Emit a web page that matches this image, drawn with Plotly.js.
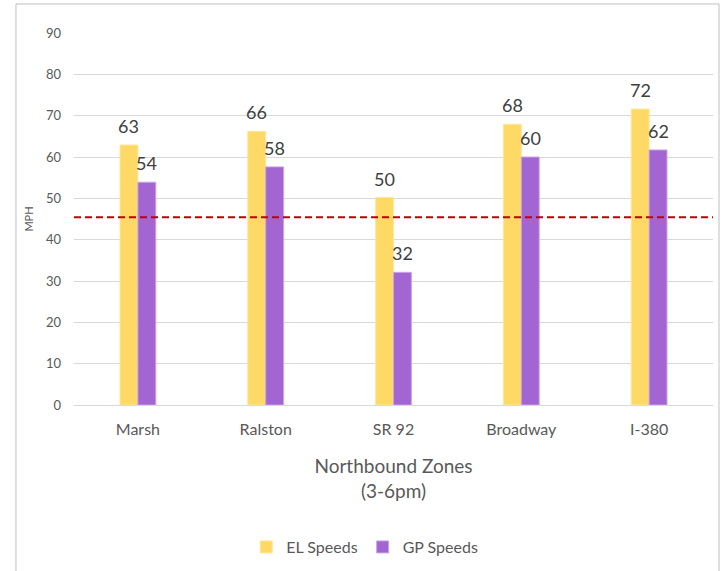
<!DOCTYPE html>
<html>
<head>
<meta charset="utf-8">
<script src="https://cdn.plot.ly/plotly-3.0.1.min.js"></script>
<style>html,body{margin:0;padding:0;background:#fff;}#chart{width:725px;height:571px;}</style>
</head>
<body>
<div id="chart"></div>
<script>
const zones = ["Marsh", "Ralston", "SR 92", "Broadway", "I-380"];
const elSpeeds = [62.9, 66.2, 50.2, 67.9, 71.6];
const gpSpeeds = [53.9, 57.6, 32.1, 60.0, 61.7];
const threshold = 45.4;
const yTicks = [0, 10, 20, 30, 40, 50, 60, 70, 80, 90];

const FONT = "Lato, 'Open Sans', sans-serif";
const LABEL_FONT = {family: FONT, size: 18, color: "#404040"};

const traces = [
  {
    type: "bar", name: "EL Speeds", x: zones, y: elSpeeds,
    marker: {color: "#FFD966", line: {color: "#FFE699", width: 1}},
    hoverinfo: "x+y"
  },
  {
    type: "bar", name: "GP Speeds", x: zones, y: gpSpeeds,
    marker: {color: "#A365D1", line: {color: "#C9A3E6", width: 1}},
    hoverinfo: "x+y"
  }
];

const labelAnn = (vals, shift) => vals.map((v, i) => ({
  x: zones[i], y: v, xref: "x", yref: "y", text: Math.round(v).toString(),
  showarrow: false, xshift: shift, yshift: 6, yanchor: "bottom", xanchor: "center",
  font: LABEL_FONT
}));

const layout = {
  width: 725, height: 571,
  margin: {l: 74, r: 12, t: 33, b: 166},
  paper_bgcolor: "#ffffff", plot_bgcolor: "#ffffff",
  font: {family: FONT, color: "#595959"},
  barmode: "group", bargap: 0.72, bargroupgap: 0,
  showlegend: true,
  legend: {orientation: "h", x: 0.455, xanchor: "center", yref: "container", y: 0.042, yanchor: "middle",
           font: {family: FONT, size: 16, color: "#595959"}, itemwidth: 30},
  xaxis: {
    type: "category", automargin: false,
    tickfont: {family: FONT, size: 16, color: "#595959"},
    showgrid: false, showline: true, linecolor: "#d9d9d9", linewidth: 1,
    ticks: "", ticklen: 0, ticklabelstandoff: 10,
    title: {text: "Northbound Zones<br>(3-6pm)", font: {family: FONT, size: 19, color: "#595959"}, standoff: 22}
  },
  yaxis: {
    range: [0, 90], tickvals: yTicks, ticktext: yTicks.map(String), automargin: false,
    tickfont: {family: FONT, size: 13, color: "#595959"},
    showgrid: true, gridcolor: "#d9d9d9", gridwidth: 1,
    zeroline: false, showline: false, ticks: "", ticklabelstandoff: 12,
    title: {text: "MPH", font: {family: FONT, size: 11, color: "#595959"}, standoff: 10}
  },
  annotations: labelAnn(elSpeeds, -9).concat(labelAnn(gpSpeeds, 9)),
  shapes: [
    {type: "line", xref: "paper", yref: "y", x0: -0.0, x1: 1.0, y0: threshold, y1: threshold,
     line: {color: "#C00000", width: 2, dash: "7px,4px"}},
    {type: "rect", xref: "paper", yref: "paper", x0: -0.0908, x1: 1.0094, y0: -0.5, y1: 1.078,
     line: {color: "#bfbfbf", width: 1}, fillcolor: "rgba(0,0,0,0)", layer: "below"}
  ]
};

Plotly.newPlot("chart", traces, layout, {displayModeBar: false, staticPlot: true});
</script>
</body>
</html>
